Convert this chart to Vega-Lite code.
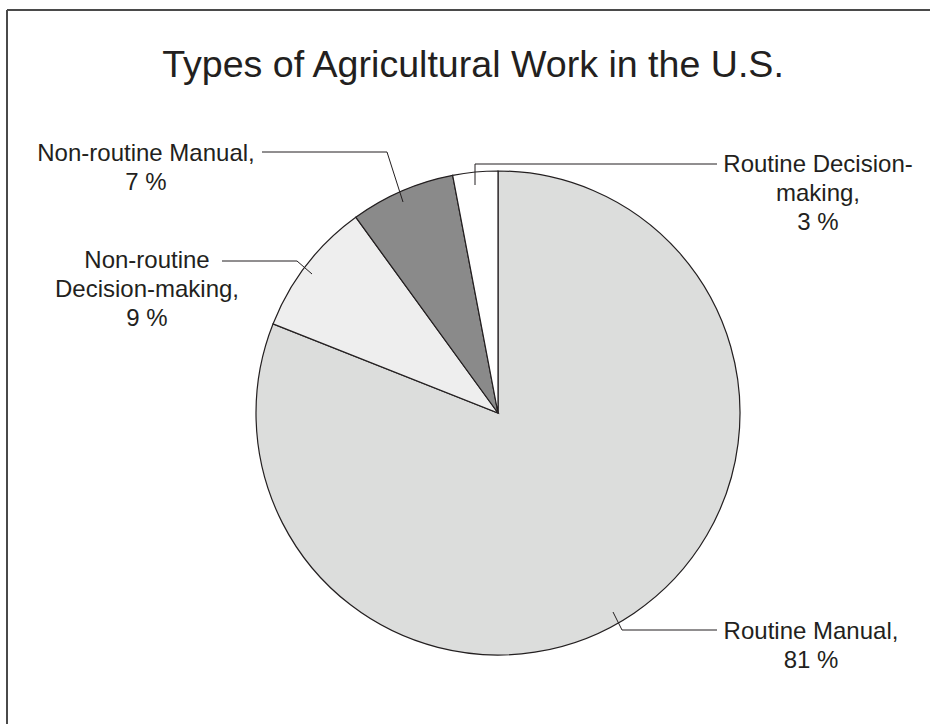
{
  "$schema": "https://vega.github.io/schema/vega-lite/v6.json",
  "width": 930,
  "height": 724,
  "padding": 0,
  "autosize": {"type": "none"},
  "background": "white",
  "title": {
    "text": "Types of Agricultural Work in the U.S.",
    "font": "Liberation Sans",
    "fontSize": 37.6,
    "fontWeight": "normal",
    "color": "#231f20",
    "anchor": "middle",
    "frame": "group",
    "baseline": "alphabetic",
    "offset": -115,
    "dx": 8
  },
  "config": {"view": {"stroke": null}},
  "datasets": {
    "frame": [
      {"x": 7, "y": 10, "x2": 930, "y2": 10},
      {"x": 7, "y": 10, "x2": 7, "y2": 724}
    ],
    "slices": [
      {"category": "Routine Manual", "share": 81, "rank": 1},
      {"category": "Non-routine Decision-making", "share": 9, "rank": 2},
      {"category": "Non-routine Manual", "share": 7, "rank": 3},
      {"category": "Routine Decision-making", "share": 3, "rank": 4}
    ],
    "leaders": [
      {"id": "Non-routine Manual", "seq": 1, "x": 262, "y": 152},
      {"id": "Non-routine Manual", "seq": 2, "x": 387, "y": 152},
      {"id": "Non-routine Manual", "seq": 3, "x": 403, "y": 202},
      {"id": "Non-routine Decision-making", "seq": 1, "x": 222, "y": 261},
      {"id": "Non-routine Decision-making", "seq": 2, "x": 297, "y": 261},
      {"id": "Non-routine Decision-making", "seq": 3, "x": 312, "y": 274},
      {"id": "Routine Decision-making", "seq": 1, "x": 717, "y": 164},
      {"id": "Routine Decision-making", "seq": 2, "x": 475, "y": 164},
      {"id": "Routine Decision-making", "seq": 3, "x": 475, "y": 185},
      {"id": "Routine Manual", "seq": 1, "x": 613, "y": 612},
      {"id": "Routine Manual", "seq": 2, "x": 622, "y": 630},
      {"id": "Routine Manual", "seq": 3, "x": 717, "y": 630}
    ],
    "labels": [
      {"text": "Non-routine Manual,\n7 %", "x": 146, "y": 161},
      {"text": "Non-routine\nDecision-making,\n9 %", "x": 147, "y": 268},
      {"text": "Routine Decision-\nmaking,\n3 %", "x": 818, "y": 172},
      {"text": "Routine Manual,\n81 %", "x": 811, "y": 639}
    ]
  },
  "layer": [
    {
      "data": {"name": "frame"},
      "mark": {"type": "rule", "stroke": "#4a4a4a", "strokeWidth": 2},
      "encoding": {
        "x": {"field": "x", "type": "quantitative", "scale": {"domain": [0, 930], "nice": false, "zero": false}, "axis": null},
        "y": {"field": "y", "type": "quantitative", "scale": {"domain": [0, 724], "nice": false, "zero": false, "reverse": true}, "axis": null},
        "x2": {"field": "x2"},
        "y2": {"field": "y2"}
      }
    },
    {
      "data": {"name": "slices"},
      "mark": {"type": "arc", "outerRadius": 242, "stroke": "#231f20", "strokeWidth": 1.2},
      "encoding": {
        "theta": {"field": "share", "type": "quantitative", "stack": true},
        "order": {"field": "rank", "type": "quantitative"},
        "color": {
          "field": "category",
          "type": "nominal",
          "scale": {
            "domain": ["Routine Manual", "Non-routine Decision-making", "Non-routine Manual", "Routine Decision-making"],
            "range": ["#dcdddc", "#eeeeee", "#8a8a8a", "#ffffff"]
          },
          "legend": null
        },
        "x": {"datum": 498, "type": "quantitative"},
        "y": {"datum": 413, "type": "quantitative"}
      }
    },
    {
      "data": {"name": "leaders"},
      "mark": {"type": "line", "stroke": "#231f20", "strokeWidth": 1, "interpolate": "linear"},
      "encoding": {
        "x": {"field": "x", "type": "quantitative"},
        "y": {"field": "y", "type": "quantitative"},
        "detail": {"field": "id", "type": "nominal"},
        "order": {"field": "seq", "type": "quantitative"}
      }
    },
    {
      "data": {"name": "labels"},
      "mark": {"type": "text", "lineBreak": "\n", "align": "center", "baseline": "alphabetic", "font": "Liberation Sans", "fontSize": 24, "lineHeight": 29, "color": "#231f20"},
      "encoding": {
        "x": {"field": "x", "type": "quantitative"},
        "y": {"field": "y", "type": "quantitative"},
        "text": {"field": "text", "type": "nominal"}
      }
    }
  ]
}
